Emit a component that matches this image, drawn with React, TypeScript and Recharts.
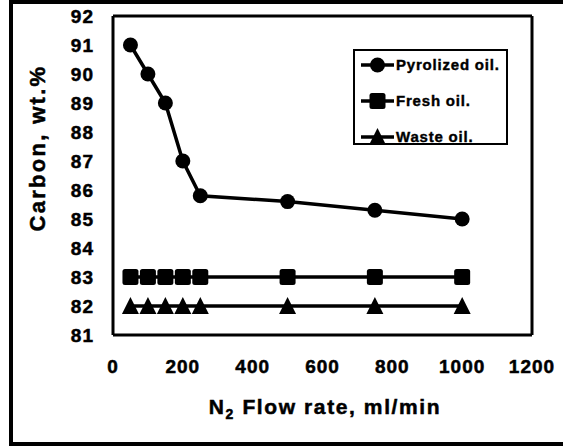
import { LineChart, Line, XAxis, YAxis, Label, ReferenceLine } from 'recharts';

const flowRates = [50, 100, 150, 200, 250, 500, 750, 1000];
const pyrolizedOil = [91, 90, 89, 87, 85.8, 85.6, 85.3, 85];
const freshOil = [83, 83, 83, 83, 83, 83, 83, 83];
const wasteOil = [82, 82, 82, 82, 82, 82, 82, 82];

const xTicks = [0, 200, 400, 600, 800, 1000, 1200];
const yTicks = [81, 82, 83, 84, 85, 86, 87, 88, 89, 90, 91, 92];

const seriesNames = ['Pyrolized oil.', 'Fresh oil.', 'Waste oil.'];

const data = flowRates.map((x, i) => ({
  x,
  pyrolized: pyrolizedOil[i],
  fresh: freshOil[i],
  waste: wasteOil[i],
}));

const FONT = '"Liberation Sans", Arial, sans-serif';

function Marker({ kind, cx, cy }: { kind: string; cx: number; cy: number }) {
  if (kind === 'circle') return <circle cx={cx} cy={cy} r={7.5} fill="#000" />;
  if (kind === 'square') return <rect x={cx - 8} y={cy - 8} width={16} height={16} rx={2.5} fill="#000" />;
  return <polygon points={`${cx},${cy - 9} ${cx + 8.5},${cy + 8} ${cx - 8.5},${cy + 8}`} fill="#000" />;
}

const dotFor = (kind: string) => (props: any) => (
  <Marker key={`${kind}-${props.index}`} kind={kind} cx={props.cx} cy={props.cy} />
);

const kinds = ['circle', 'square', 'triangle'];

function LegendBox() {
  return (
    <div style={{ position: 'absolute', left: 353, top: 49, width: 155, height: 96, border: '2px solid #000', boxSizing: 'border-box', background: '#fff' }}>
      {seriesNames.map((name, i) => (
        <div key={name} style={{ position: 'absolute', left: 5, top: 3 + i * 36, height: 22, display: 'flex', alignItems: 'center', lineHeight: '22px' }}>
          <svg width={35} height={22} style={{ flex: 'none', display: 'block' }}>
            <line x1={1} y1={11} x2={34} y2={11} stroke="#000" strokeWidth={3.5} />
            <Marker kind={kinds[i]} cx={17.5} cy={11} />
          </svg>
          <span style={{ fontFamily: FONT, fontWeight: 'bold', fontSize: 15, letterSpacing: 0.8, color: '#000', marginLeft: 1, whiteSpace: 'nowrap', WebkitTextStroke: '0.4px #000' }}>
            {name}
          </span>
        </div>
      ))}
    </div>
  );
}

const tickStyle = { fill: '#000', stroke: '#000', strokeWidth: 0.5, fontFamily: FONT, fontWeight: 'bold', fontSize: 19, letterSpacing: 1 };

export default function App() {
  return (
    <div style={{ position: 'absolute', left: 0, top: 0, width: 563, height: 446, overflow: 'hidden', background: '#fff' }}>
      <div style={{ position: 'absolute', left: 9, top: 0, width: 600, height: 446, border: '4px solid #000', boxSizing: 'border-box' }} />
      <div style={{ position: 'absolute', left: 0, top: 0 }}>
        <LineChart width={563} height={446} data={data} margin={{ top: 16, right: 31, left: 0, bottom: 61 }}>
          <XAxis
            dataKey="x"
            type="number"
            domain={[0, 1200]}
            ticks={xTicks}
            interval={0}
            stroke="#000"
            axisLine={false}
            tickLine={false}
            tickSize={0}
            tickMargin={25}
            height={50}
            tick={tickStyle}
          >
            <Label
              content={() => (
                <text x={325} y={414} textAnchor="middle" fontFamily={FONT} fontWeight="bold" fontSize={21} letterSpacing={1.6} fill="#000" stroke="#000" strokeWidth={0.5}>
                  N<tspan fontSize={14} dy={5}>2</tspan>
                  <tspan dy={-5}> Flow rate, ml/min</tspan>
                </text>
              )}
            />
          </XAxis>
          <YAxis
            type="number"
            domain={[81, 92]}
            ticks={yTicks}
            interval={0}
            stroke="#000"
            axisLine={false}
            tickLine={false}
            tickSize={0}
            tickMargin={19}
            width={113}
            tick={tickStyle}
          >
            <Label
              content={() => (
                <text x={45} y={148} transform="rotate(-90 45 148)" textAnchor="middle" fontFamily={FONT} fontWeight="bold" fontSize={22} letterSpacing={2.3} fill="#000" stroke="#000" strokeWidth={0.5}>
                  Carbon, wt.%
                </text>
              )}
            />
          </YAxis>
          <ReferenceLine x={0} stroke="#000" strokeWidth={3} ifOverflow="visible" />
          <ReferenceLine x={1200} stroke="#000" strokeWidth={3} ifOverflow="visible" />
          <ReferenceLine y={81} stroke="#000" strokeWidth={3} ifOverflow="visible" />
          <ReferenceLine y={92} stroke="#000" strokeWidth={3} ifOverflow="visible" />
          <Line dataKey="pyrolized" name={seriesNames[0]} stroke="#000" strokeWidth={3.5} dot={dotFor('circle')} isAnimationActive={false} />
          <Line dataKey="fresh" name={seriesNames[1]} stroke="#000" strokeWidth={3.5} dot={dotFor('square')} isAnimationActive={false} />
          <Line dataKey="waste" name={seriesNames[2]} stroke="#000" strokeWidth={3.5} dot={dotFor('triangle')} isAnimationActive={false} />
        </LineChart>
      </div>
      <LegendBox />
    </div>
  );
}
